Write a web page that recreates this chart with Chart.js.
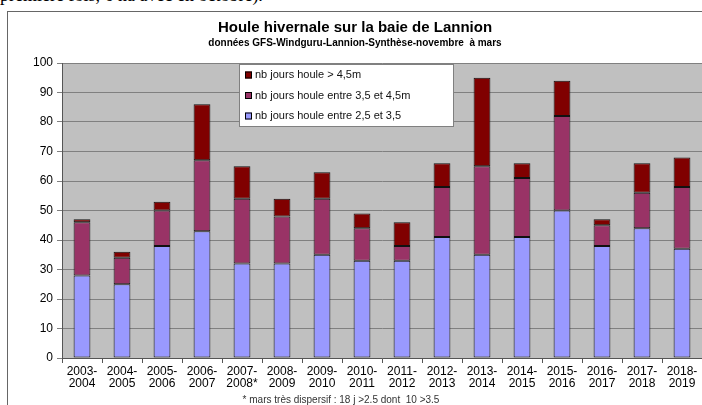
<!DOCTYPE html>
<html>
<head>
<meta charset="utf-8">
<script src="https://cdn.jsdelivr.net/npm/chart.js@4"></script>
<style>
  body { margin: 0; background: #fff; overflow: hidden; }
  #wrap { position: relative; width: 702px; height: 405px; }
  #toptext { position: absolute; left: 0; top: -15px; font: 18px "Liberation Serif", serif; color: #000; white-space: nowrap; }
  #frame { position: absolute; left: 7px; top: 11px; width: 700px; height: 400px; border-left: 1px solid #666; border-top: 1px solid #666; }
  #chart { position: absolute; left: 0; top: 0; }
  #note { position: absolute; left: 0; width: 682px; top: 394px; text-align: center; font: 10px "Liberation Sans", Arial, sans-serif; color: #333; }
</style>
</head>
<body>
<div id="wrap">
  <div id="toptext">première fois, 6 na avec en octobre).</div>
  <div id="frame"></div>
  <canvas id="chart" width="702" height="405"></canvas>
  <div id="note">* mars très dispersif : 18 j &gt;2.5 dont&nbsp; 10 &gt;3.5</div>
</div>
<script>
// saisons (novembre à mars)
var saisons = [
  ['2003-', '2004'], ['2004-', '2005'], ['2005-', '2006'], ['2006-', '2007'],
  ['2007-', '2008*'], ['2008-', '2009'], ['2009-', '2010'], ['2010-', '2011'],
  ['2011-', '2012'], ['2012-', '2013'], ['2013-', '2014'], ['2014-', '2015'],
  ['2015-', '2016'], ['2016-', '2017'], ['2017-', '2018'], ['2018-', '2019']
];

// nb jours par classe de houle
var houle25a35 = [28, 25, 38, 43, 32, 32, 35, 33, 33, 41, 35, 41, 50, 38, 44, 37];
var houle35a45 = [18, 9, 12, 24, 22, 16, 19, 11, 5, 17, 30, 20, 32, 7, 12, 21];
var houleSup45 = [1, 2, 3, 19, 11, 6, 9, 5, 8, 8, 30, 5, 12, 2, 10, 10];

var ticksY = [0, 10, 20, 30, 40, 50, 60, 70, 80, 90, 100];

var police = '"Liberation Sans", Arial, sans-serif';

// fond gris de la zone de tracé
var fondGris = {
  id: 'fondGris',
  beforeDraw: function (chart) {
    var a = chart.chartArea, c = chart.ctx;
    c.save();
    c.fillStyle = '#c0c0c0';
    c.fillRect(a.left, a.top, a.right - a.left, a.bottom - a.top);
    c.restore();
  }
};

// légende dans la zone de tracé (ordre inversé)
var legendeBoite = {
  id: 'legendeBoite',
  afterDraw: function (chart) {
    var c = chart.ctx;
    var x = 239, y = 64, w = 215, h = 63;
    c.save();
    c.fillStyle = '#fff';
    c.fillRect(x, y, w, h);
    c.strokeStyle = '#808080';
    c.lineWidth = 1;
    c.strokeRect(x + 0.5, y + 0.5, w - 1, h - 1);
    c.font = '11px ' + police;
    c.textBaseline = 'middle';
    var ds = chart.data.datasets.slice().reverse();
    for (var i = 0; i < ds.length; i++) {
      var cy = y + 11 + i * 20.5;
      c.fillStyle = ds[i].backgroundColor;
      c.fillRect(x + 6, cy - 3.5, 7, 7);
      c.strokeStyle = '#000';
      c.strokeRect(x + 6.5, cy - 3, 6, 6);
      c.fillStyle = '#111';
      c.fillText(ds[i].label, x + 16, cy);
    }
    c.restore();
  }
};

var ctx = document.getElementById('chart').getContext('2d');

var config = {
  type: 'bar',
  data: {
    labels: saisons,
    datasets: [
      { label: 'nb jours houle entre 2,5 et 3,5', data: houle25a35, backgroundColor: '#9999ff' },
      { label: 'nb jours houle entre 3,5 et 4,5m', data: houle35a45, backgroundColor: '#993366' },
      { label: 'nb jours houle > 4,5m', data: houleSup45, backgroundColor: '#800000' }
    ]
  },
  options: {
    responsive: false,
    animation: false,
    layout: { padding: { left: 8, right: 0, top: 14, bottom: 0 } },
    datasets: {
      bar: {
        borderColor: '#111',
        borderWidth: 1,
        borderSkipped: false,
        barPercentage: 0.42,
        categoryPercentage: 1
      }
    },
    plugins: {
      legend: { display: false },
      tooltip: { enabled: false },
      title: {
        display: true,
        text: 'Houle hivernale sur la baie de Lannion',
        color: '#000',
        font: { family: police, size: 15, weight: 'bold', lineHeight: 1.2 },
        padding: { top: 5, bottom: 0 }
      },
      subtitle: {
        display: true,
        text: 'données GFS-Windguru-Lannion-Synthèse-novembre  à mars',
        color: '#000',
        font: { family: police, size: 10, weight: 'bold', lineHeight: 1.2 },
        padding: { top: 0, bottom: 14 }
      }
    },
    scales: {
      x: {
        stacked: true,
        offset: true,
        grid: { display: true, offset: true, drawOnChartArea: false, color: '#555', tickLength: 5 },
        border: { color: '#555' },
        ticks: { color: '#000', padding: 3, maxRotation: 0, autoSkip: false, font: { family: police, size: 12, lineHeight: 1 } },
        afterFit: function (s) { s.height = 47; }
      },
      y: {
        stacked: true,
        min: 0,
        max: 100,
        afterBuildTicks: function (s) { s.ticks = ticksY.map(function (v) { return { value: v }; }); },
        grid: { color: '#808080', tickLength: 5 },
        border: { color: '#555' },
        ticks: { color: '#000', padding: 4, font: { family: police, size: 12 } },
        afterFit: function (s) { s.width = 54; }
      }
    }
  },
  plugins: [fondGris, legendeBoite]
};

var monGraphe = new Chart(ctx, config);
</script>
</body>
</html>
